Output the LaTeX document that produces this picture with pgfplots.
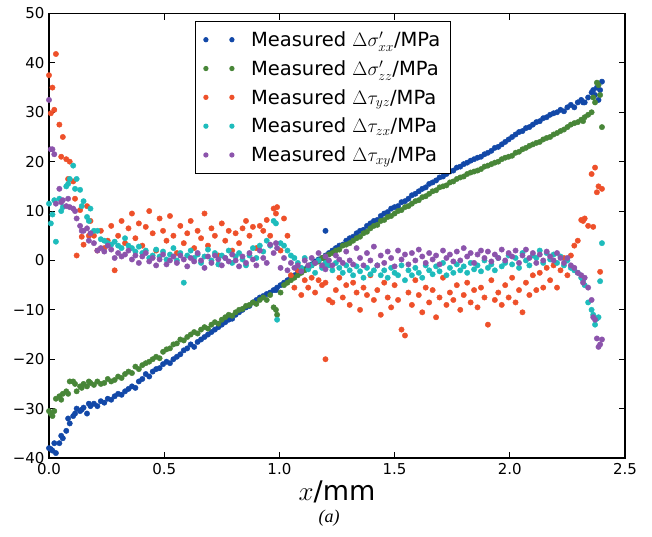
\RequirePackage{fix-cm}
\documentclass[border=0pt]{standalone}
\usepackage{fontspec}
\setmainfont{DejaVu Sans}
\newfontfamily\capfont{Liberation Serif}
\usepackage{pgfplots}
\usepackage{pgfplotstable}
\pgfplotsset{compat=1.18}
\definecolor{cblue}{RGB}{18,72,168}
\definecolor{cgreen}{RGB}{72,134,56}
\definecolor{cred}{RGB}{238,80,42}
\definecolor{ccyan}{RGB}{30,188,188}
\definecolor{cpurple}{RGB}{140,84,172}
\pgfplotstableread{
x sxx szz tyz tzx txy
0.000 -38.0 -30.5 37.5 11.5 32.5
0.015 -38.5 -31.5 35.0 9.3 22.5
0.030 -39.0 -28.0 41.8 3.8 11.5
0.045 -37.0 -27.5 27.5 12.5 14.5
0.060 -36.0 -27.0 25.0 10.8 12.2
0.075 -34.5 -26.5 20.5 15.0 11.0
0.090 -33.0 -24.5 20.0 16.5 10.8
0.105 -31.5 -24.5 16.0 19.2 10.5
0.120 -30.0 -26.5 1.0 16.5 8.5
0.135 -30.5 -25.5 10.2 14.3 7.0
0.150 -29.8 -25.0 3.2 12.0 6.0
0.165 -31.0 -25.5 11.0 8.8 6.5
0.180 -29.5 -24.8 8.0 10.5 5.5
0.195 -29.0 -25.2 5.0 6.0 3.5
0.210 -29.5 -24.5 2.0 6.0 2.0
0.225 -28.5 -25.0 6.0 4.3 2.5
0.240 -28.8 -24.8 2.5 4.0 1.8
0.255 -28.0 -24.0 4.0 3.5 3.0
0.270 -28.2 -24.5 7.0 3.2 2.2
0.285 -27.5 -24.2 -2.0 3.8 0.5
0.300 -27.0 -23.5 5.0 3.0 1.5
0.315 -27.2 -23.8 8.0 2.5 0.8
0.330 -26.5 -23.0 3.5 4.5 1.2
0.345 -26.0 -22.5 6.5 3.0 2.0
0.360 -25.5 -22.8 9.5 2.5 0.2
0.375 -25.8 -21.5 4.5 1.8 1.0
0.390 -24.5 -22.0 7.5 2.8 -0.5
0.405 -24.0 -21.2 3.0 1.5 0.8
0.420 -23.0 -20.8 6.8 2.0 1.5
0.435 -23.5 -20.5 10.0 0.5 -0.2
0.450 -22.5 -20.0 5.5 1.0 0.5
0.465 -22.0 -19.5 2.0 2.2 -1.0
0.480 -21.8 -19.8 8.5 0.8 0.2
0.495 -21.0 -18.5 6.0 1.8 1.2
0.510 -20.5 -18.0 4.0 0.2 -0.8
0.525 -20.8 -17.8 9.0 1.2 0.0
0.540 -20.0 -17.0 5.0 2.5 0.8
0.555 -19.5 -16.8 1.5 0.0 -0.5
0.570 -19.0 -16.0 7.0 1.5 1.0
0.585 -18.2 -16.2 3.5 -4.5 0.2
0.600 -17.8 -15.5 5.5 1.0 -1.2
0.615 -17.0 -15.0 8.0 2.0 0.5
0.630 -17.5 -14.5 2.5 0.5 -0.2
0.645 -16.5 -14.8 6.0 1.2 1.5
0.660 -16.0 -14.0 4.5 -0.5 0.0
0.675 -15.5 -13.5 9.5 0.8 -1.5
0.690 -15.0 -13.8 3.0 2.2 0.8
0.705 -14.5 -13.0 6.5 0.0 -0.5
0.720 -14.0 -12.5 5.0 1.5 1.0
0.735 -13.5 -12.8 1.0 -0.8 0.2
0.750 -13.0 -12.0 7.5 1.0 -1.0
0.765 -12.5 -11.5 4.0 0.5 0.5
0.780 -12.0 -11.0 6.0 2.0 -0.2
0.795 -11.8 -11.2 2.0 -0.5 1.2
0.810 -11.0 -10.5 5.5 0.8 0.0
0.825 -10.5 -10.0 3.5 1.5 -1.2
0.840 -10.0 -9.8 6.5 0.2 0.8
0.855 -9.5 -9.2 8.0 -1.0 -0.5
0.870 -9.2 -9.0 5.0 1.0 1.5
0.885 -8.5 -8.5 6.8 2.5 0.2
0.900 -8.0 -8.8 2.5 0.5 -1.0
0.915 -7.5 -8.0 7.0 3.0 2.0
0.930 -7.2 -7.5 6.0 1.8 0.5
0.945 -6.8 -8.0 8.2 4.0 -0.5
0.960 -6.5 -7.0 5.0 3.0 3.2
0.975 -6.0 -9.5 10.5 8.0 1.5
0.990 -5.5 -11.0 10.8 -12.0 2.5
1.005 -5.0 -6.5 2.0 3.5 -1.5
1.020 -4.5 -5.0 8.5 3.0 0.5
1.035 -4.0 -4.5 5.0 2.0 -2.0
1.050 -3.5 -4.0 -3.0 1.0 -0.5
1.065 -3.0 -3.5 -5.5 0.5 -1.5
1.080 -2.5 -3.0 -2.0 -0.5 -1.0
1.095 -2.2 -2.5 -7.0 -1.5 -2.2
1.110 -1.8 -2.0 -4.0 0.5 0.0
1.125 -1.2 -1.5 -5.5 -1.8 -1.0
1.140 -0.8 -1.0 -3.5 -1.0 0.5
1.155 -0.2 -0.5 -6.5 -2.5 -0.5
1.170 0.2 -0.2 -4.0 0.0 1.5
1.185 0.5 0.5 -5.0 -1.5 -1.0
1.200 6.0 0.8 -20.0 -0.5 0.8
1.215 1.5 1.2 -8.0 -1.0 0.0
1.230 2.0 1.5 -8.5 -2.0 -1.0
1.245 2.5 2.0 -6.0 -0.5 1.0
1.260 3.0 2.2 -3.5 -1.5 0.2
1.275 3.2 3.0 -7.5 -2.5 -0.5
1.290 4.0 3.2 -5.0 -1.0 1.8
1.305 4.5 3.5 -9.0 -2.0 0.0
1.320 4.8 4.0 -4.5 -3.0 -0.8
1.335 5.5 4.5 -6.5 -1.2 2.5
1.350 6.0 4.8 -10.0 -2.2 0.5
1.365 6.2 5.5 -5.5 -3.5 -1.0
1.380 7.0 5.8 -7.0 -1.5 1.5
1.395 7.5 6.5 -3.0 -2.8 0.0
1.410 8.0 7.0 -8.0 -2.0 2.8
1.425 8.2 7.2 -6.0 -1.0 -1.0
1.440 9.0 8.0 -11.0 -3.0 1.0
1.455 9.5 8.2 -4.5 -2.0 -0.5
1.470 9.8 8.8 -7.5 -3.5 1.8
1.485 10.5 9.0 -9.5 -1.5 0.5
1.500 10.8 9.5 -5.0 -2.5 -1.2
1.515 11.0 10.0 -8.0 -3.0 2.0
1.530 11.8 10.2 -14.0 -1.0 0.2
1.545 12.0 10.8 -15.2 -4.0 1.2
1.560 12.5 11.0 -6.5 -2.0 -0.8
1.575 13.2 11.5 -9.0 -3.0 1.5
1.590 13.5 12.0 -4.0 -1.5 0.0
1.605 14.0 12.2 -7.0 -2.5 2.2
1.620 14.5 12.8 -10.5 -3.5 0.8
1.635 14.8 13.0 -5.5 -1.0 -0.5
1.650 15.5 13.5 -8.5 -2.0 1.5
1.665 15.8 14.0 -6.0 -2.8 0.2
1.680 16.2 14.2 -11.5 -1.2 1.0
1.695 16.8 14.8 -7.5 -2.2 -0.8
1.710 17.0 15.0 -3.5 -0.5 2.0
1.725 17.5 15.2 -9.0 -3.0 0.5
1.740 18.0 15.8 -6.5 -1.5 1.2
1.755 18.2 16.0 -8.0 -2.5 -0.2
1.770 18.8 16.5 -5.0 -0.8 1.8
1.785 19.0 16.8 -10.0 -2.0 0.0
1.800 19.5 17.0 -7.0 -1.2 2.5
1.815 19.8 17.5 -4.5 -2.5 0.8
1.830 20.2 17.8 -8.5 -0.5 1.5
1.845 20.5 18.0 -6.0 -1.8 -0.5
1.860 20.8 18.2 -9.5 -1.0 1.2
1.875 21.0 18.5 -5.5 -2.2 2.0
1.890 21.5 19.0 -7.5 0.0 0.5
1.905 21.8 19.2 -13.0 -1.5 1.8
1.920 22.2 19.5 -4.0 -0.8 -0.2
1.935 22.8 19.8 -8.0 -2.0 1.2
1.950 23.0 20.0 -6.5 0.5 0.5
1.965 23.5 20.5 -9.0 -1.2 2.2
1.980 24.0 20.8 -5.0 -0.5 0.0
1.995 24.5 21.0 -7.5 1.0 1.5
2.010 25.0 21.2 -3.5 -0.8 0.8
2.025 25.5 21.8 -8.5 0.5 2.0
2.040 26.0 22.0 -6.0 -1.5 -0.5
2.055 26.2 22.5 -10.5 1.5 1.0
2.070 26.8 22.8 -4.5 0.0 2.2
2.085 27.0 23.2 -7.0 -1.0 0.5
2.100 27.5 23.5 -3.0 1.0 1.5
2.115 28.0 23.8 -6.0 0.5 -0.5
2.130 28.2 24.0 -2.5 2.0 1.2
2.145 28.8 24.5 -5.5 -0.5 0.0
2.160 29.0 24.8 -1.5 1.5 1.8
2.175 29.5 25.0 -4.0 0.2 0.8
2.190 29.8 25.5 -1.0 1.2 0.0
2.205 30.0 25.8 -5.5 -0.5 1.5
2.220 30.5 26.2 -2.0 0.8 0.5
2.235 30.2 26.5 0.5 -1.0 -0.5
2.250 31.0 27.0 -3.0 0.0 0.5
2.265 31.5 27.5 1.0 -1.5 -1.0
2.280 31.0 27.8 3.0 -2.0 -1.5
2.295 32.0 28.0 4.0 -2.5 -2.5
2.310 32.5 28.5 8.2 -3.5 -3.0
2.325 32.0 29.0 8.5 -5.0 -3.5
2.340 33.0 29.5 7.0 -8.5 -5.5
2.355 34.0 30.0 17.5 -10.0 -8.0
2.370 33.5 32.0 18.8 -13.0 -12.0
2.385 32.5 35.5 15.0 -11.5 -17.5
2.400 36.2 27.0 14.5 3.5 -16.0
0.008 -38.2 -31.0 29.8 7.5 22.5
0.023 -37.0 -30.5 30.5 12.2 21.5
0.053 -35.5 -28.2 21.0 10.0 11.8
0.083 -32.0 -27.0 16.5 15.5 12.5
0.113 -31.0 -25.0 12.5 14.5 10.0
0.142 -30.2 -25.8 4.8 11.0 6.0
0.173 -29.0 -24.5 5.0 8.0 4.0
0.985 -6.0 -10.0 9.5 7.5 3.5
1.200 1.0 0.2 -4.5 -1.0 -1.8
2.318 32.0 28.2 8.0 -4.0 -4.5
2.362 34.5 33.0 6.8 -11.0 -11.5
2.378 35.0 36.0 13.8 -11.8 -15.8
2.392 34.5 33.5 -2.3 -4.2 -17.0
}\datatable

\pgfplotsset{dot/.style={only marks, mark=*, mark size=2.7pt, color=#1, mark options={draw=none, fill=#1}}}

\begin{document}
\begin{tikzpicture}
\useasboundingbox (-49pt,-78pt) rectangle (603pt,458pt);
\begin{axis}[
  at={(0pt,0pt)}, anchor=south west,
  scale only axis, width=576pt, height=444.5pt,
  xmin=0, xmax=2.5, ymin=-40, ymax=50,
  xtick={0,0.5,1,1.5,2,2.5}, xticklabels={0.0,0.5,1.0,1.5,2.0,2.5},
  ytick={-40,-30,-20,-10,0,10,20,30,40,50},
  yticklabels={−40,−30,−20,−10,0,10,20,30,40,50},
  tick align=inside, major tick length=6pt,
  tick style={black, line width=0.8pt},
  axis line style={line width=1.4pt},
  ticklabel style={font=\fontsize{15}{18}\selectfont},
  xticklabel style={yshift=-2pt},
  yticklabel style={xshift=-1pt},
  xlabel={$x$/mm},
  xlabel style={font=\fontsize{27}{32}\selectfont, at={(axis description cs:0.5,0)}, anchor=base, yshift=-42pt},
  legend style={at={(axis description cs:0.254,0.983)}, anchor=north west, draw=black, line width=1pt,
    font=\fontsize{19.5}{23}\selectfont, legend cell align=left, row sep=8.5pt, column sep=15pt,
    inner sep=8pt},
  legend image code/.code={\draw[mark repeat=1,mark phase=1,mark size=2.1pt] plot coordinates {(0pt,0pt) (26pt,0pt)};},
]
\addplot[dot=cblue] table[x=x,y=sxx]{\datatable};
\addlegendentry{Measured $\Delta\sigma'_{xx}$/MPa}
\addplot[dot=cgreen] table[x=x,y=szz]{\datatable};
\addlegendentry{Measured $\Delta\sigma'_{zz}$/MPa}
\addplot[dot=cred] table[x=x,y=tyz]{\datatable};
\addlegendentry{Measured $\Delta\tau_{yz}$/MPa}
\addplot[dot=ccyan] table[x=x,y=tzx]{\datatable};
\addlegendentry{Measured $\Delta\tau_{zx}$/MPa}
\addplot[dot=cpurple] table[x=x,y=txy]{\datatable};
\addlegendentry{Measured $\Delta\tau_{xy}$/MPa}
\end{axis}
\node[font=\capfont\itshape\fontsize{18}{20}\selectfont] at (280pt,-60pt) {(a)};
\end{tikzpicture}
\end{document}
